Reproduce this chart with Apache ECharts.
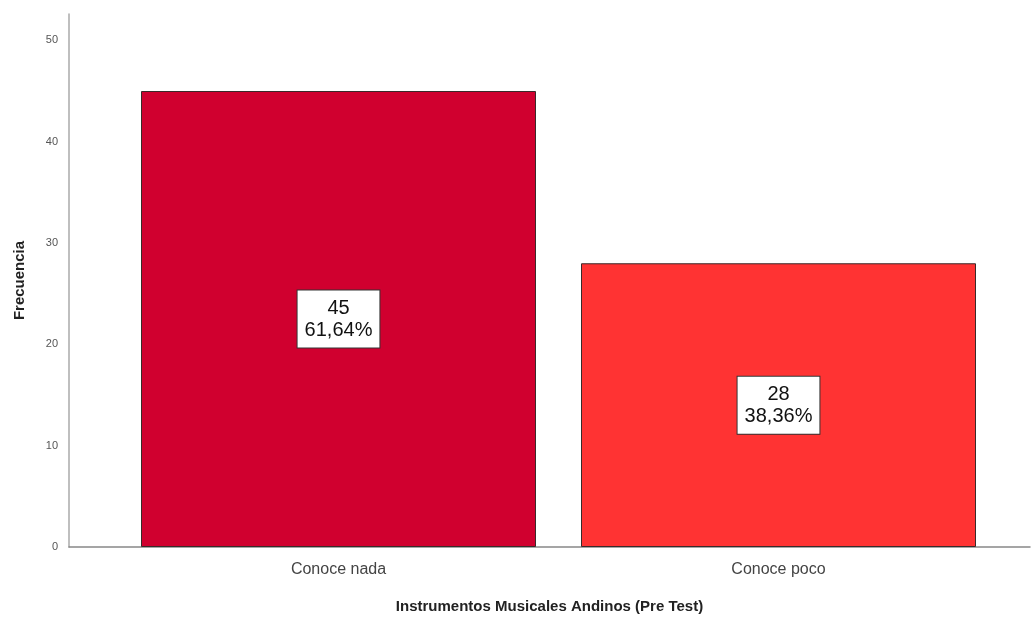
<!DOCTYPE html>
<html>
<head>
<meta charset="utf-8">
<script src="https://cdn.jsdelivr.net/npm/echarts@6/dist/echarts.min.js"></script>
<style>html,body{margin:0;padding:0;background:#fff}#c{width:1032px;height:618px}</style>
</head>
<body>
<div id="c"></div>
<script>
var categories = ['Conoce nada', 'Conoce poco'];
var frequencies = [45, 28];
var percentLabels = ['61,64%', '38,36%'];
var barColors = ['#d0002f', '#ff3333'];
var yTicks = [0, 10, 20, 30, 40, 50];

var chart = echarts.init(document.getElementById('c'), null, {renderer: 'canvas'});
var yMax = 52.6;
var option = {
  animation: false,
  backgroundColor: '#ffffff',
  grid: [
    {left: 69, right: 2, top: 14, bottom: 71, containLabel: false, outerBoundsMode: 'none'},
    {left: 118.5, width: 880, top: 14, bottom: 71, containLabel: false, outerBoundsMode: 'none'}
  ],
  xAxis: [
    {
      gridIndex: 0, type: 'category', data: [''],
      axisLine: {show: true, lineStyle: {color: '#888', width: 1.5}},
      axisTick: {show: false}, axisLabel: {show: false},
      name: 'Instrumentos Musicales Andinos (Pre Test)',
      nameLocation: 'middle', nameGap: 52,
      nameTextStyle: {fontFamily: 'Liberation Sans, Arial', fontSize: 15, fontWeight: 'bold', color: '#222'}
    },
    {
      gridIndex: 1, type: 'category', data: categories,
      axisLine: {show: false}, axisTick: {show: false},
      axisLabel: {fontFamily: 'Liberation Sans, Arial', fontSize: 16, color: '#444', margin: 15}
    }
  ],
  yAxis: [
    {
      gridIndex: 0, type: 'value', min: 0, max: yMax, interval: 10,
      axisLine: {show: true, lineStyle: {color: '#aaa', width: 1.5}},
      axisTick: {show: false},
      splitLine: {show: false},
      axisLabel: {
        fontFamily: 'Liberation Sans, Arial', fontSize: 11, color: '#555', margin: 11,
        showMaxLabel: false,
        formatter: function (v) { return yTicks.indexOf(v) >= 0 ? String(v) : ''; }
      },
      name: 'Frecuencia', nameLocation: 'middle', nameGap: 42, nameRotate: 90,
      nameTextStyle: {fontFamily: 'Liberation Sans, Arial', fontSize: 15, fontWeight: 'bold', color: '#222'}
    },
    {
      gridIndex: 1, type: 'value', min: 0, max: yMax, interval: 10,
      show: false, splitLine: {show: false}
    }
  ],
  series: [{
    type: 'bar',
    xAxisIndex: 1, yAxisIndex: 1,
    barWidth: 395,
    data: frequencies.map(function (v, i) {
      return {value: v, itemStyle: {color: barColors[i], borderColor: '#3a2a2a', borderWidth: 1}};
    }),
    label: {
      show: true, position: 'inside',
      formatter: function (p) { return p.value + '\n' + percentLabels[p.dataIndex]; },
      fontFamily: 'Liberation Sans, Arial', fontSize: 20, lineHeight: 22, color: '#111',
      backgroundColor: '#ffffff', borderColor: '#333', borderWidth: 1,
      padding: [7, 7, 6, 7]
    }
  }]
};
chart.setOption(option);
</script>
</body>
</html>
